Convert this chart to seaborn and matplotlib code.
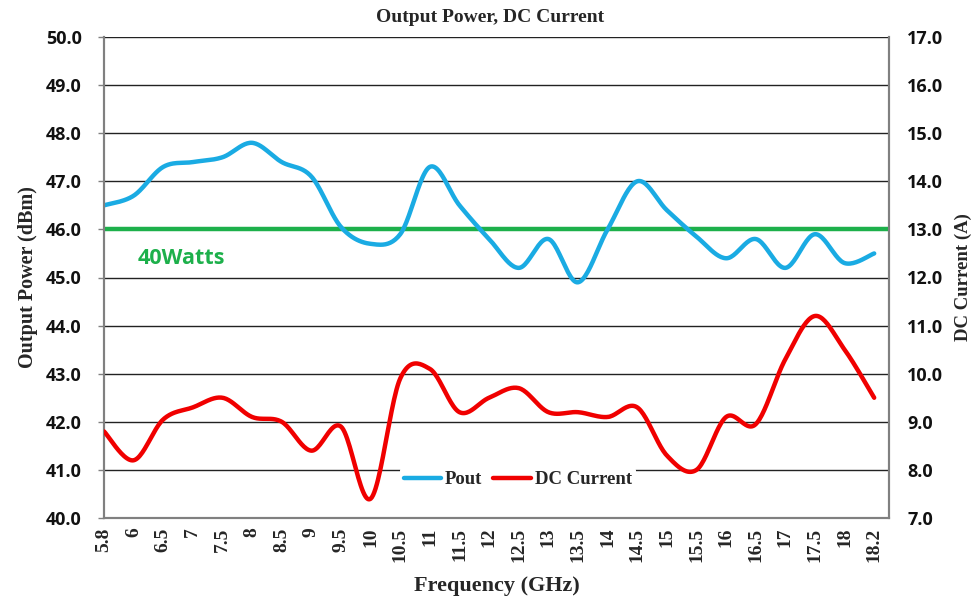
import numpy as np
import pandas as pd
import matplotlib
matplotlib.use("Agg")
import matplotlib.pyplot as plt
import seaborn as sns
from matplotlib.lines import Line2D

# ---- data ----
freq_labels = ["5.8", "6", "6.5", "7", "7.5", "8", "8.5", "9", "9.5", "10", "10.5",
               "11", "11.5", "12", "12.5", "13", "13.5", "14", "14.5", "15", "15.5",
               "16", "16.5", "17", "17.5", "18", "18.2"]
pout = [46.5, 46.7, 47.3, 47.4, 47.5, 47.8, 47.4, 47.1, 46.05, 45.7, 45.9,
        47.3, 46.5, 45.8, 45.2, 45.8, 44.9, 46.0, 47.0, 46.4, 45.85,
        45.4, 45.8, 45.2, 45.9, 45.3, 45.5]
dc_current = [8.8, 8.2, 9.05, 9.3, 9.5, 9.1, 9.0, 8.4, 8.9, 7.4, 9.9,
              10.1, 9.2, 9.5, 9.7, 9.2, 9.2, 9.1, 9.3, 8.3, 8.0,
              9.1, 8.95, 10.3, 11.2, 10.5, 9.5]
ref_level = 46.0
ref_label = "40Watts"

left_ticks = [40.0 + i for i in range(11)]
right_ticks = [7.0 + i for i in range(11)]

BLUE = "#1AABE3"
RED = "#F00000"
GREEN = "#1DB04B"


def smooth(y, n=24):
    """Excel-style smoothed line (Catmull-Rom Bezier) through the points."""
    y = np.asarray(y, float)
    x = np.arange(len(y), dtype=float)
    pts = np.column_stack([x, y])
    out = []
    for i in range(len(pts) - 1):
        p0 = pts[i - 1] if i > 0 else pts[i]
        p1 = pts[i]
        p2 = pts[i + 1]
        p3 = pts[i + 2] if i + 2 < len(pts) else pts[i + 1]
        c1 = p1 + (p2 - p0) / 6.0
        c2 = p2 - (p3 - p1) / 6.0
        t = np.linspace(0, 1, n, endpoint=(i == len(pts) - 2))[:, None]
        seg = ((1 - t) ** 3) * p1 + 3 * ((1 - t) ** 2) * t * c1 + 3 * (1 - t) * t ** 2 * c2 + t ** 3 * p2
        out.append(seg)
    out = np.vstack(out)
    return out[:, 0], out[:, 1]


sns.set_theme(style="white")
plt.rcParams["font.family"] = ["Liberation Serif", "DejaVu Serif"]

W, H = 979, 597
fig = plt.figure(figsize=(W / 100, H / 100), dpi=100)
ax = fig.add_axes([104 / W, 1 - 518 / H, (889 - 104) / W, (518 - 37) / H])
ax2 = ax.twinx()

# Pout
xs, ys = smooth(pout)
df_p = pd.DataFrame({"x": xs, "y": ys})
sns.lineplot(data=df_p, x="x", y="y", ax=ax, color=BLUE, linewidth=3.2,
             sort=False, estimator=None, zorder=4, solid_capstyle="round")

# reference line
ax.axhline(ref_level, color=GREEN, linewidth=3.2, zorder=3)
ax.text(1.15, ref_level - 0.6, ref_label, color=GREEN, fontsize=15.5, fontweight="bold",
        family=["Open Sans", "DejaVu Sans"], va="center", ha="left", zorder=5)

# DC current
xd, yd = smooth(dc_current)
df_d = pd.DataFrame({"x": xd, "y": yd})
sns.lineplot(data=df_d, x="x", y="y", ax=ax2, color=RED, linewidth=3.2,
             sort=False, estimator=None, zorder=4, solid_capstyle="round")

# axes limits and ticks
ax.set_xlim(0, 26.5)
ax.set_ylim(40, 50)
ax2.set_ylim(7, 17)
ax.set_yticks(left_ticks)
ax.set_yticklabels([f"{v:.1f}" for v in left_ticks])
ax2.set_yticks(right_ticks)
ax2.set_yticklabels([f"{v:.1f}" for v in right_ticks])
ax.set_xticks(range(len(freq_labels)))
ax.set_xticklabels(freq_labels, rotation=90, fontsize=14, fontweight="bold",
                   family=["Liberation Serif", "DejaVu Serif"], va="top")

for a in (ax, ax2):
    for lab in a.get_yticklabels():
        lab.set_fontfamily(["Open Sans", "DejaVu Sans"])
        lab.set_fontweight("bold")
        lab.set_fontsize(13)
        lab.set_color("#111111")

ax.tick_params(axis="y", which="both", length=4, width=1, color="#808080", pad=12, left=True)
ax2.tick_params(axis="y", which="both", length=0, pad=13, right=True)
ax.tick_params(axis="x", length=0, pad=7)

# grid lines
for v in left_ticks:
    ax.axhline(v, color="#222222", linewidth=1.0, zorder=1)

for a in (ax, ax2):
    a.spines["top"].set_visible(False)
    a.spines["left"].set_color("#808080")
    a.spines["right"].set_color("#808080")
    a.spines["bottom"].set_color("#808080")
    for s in ("left", "right", "bottom"):
        a.spines[s].set_linewidth(1.5)
    a.set_xlabel("")
    a.set_ylabel("")

ax.set_ylabel("Output Power (dBm)", fontsize=14.5, fontweight="bold", labelpad=6)
ax2.set_ylabel("DC Current (A)", fontsize=13.5, fontweight="bold", rotation=90, labelpad=8)
ax.set_xlabel("Frequency (GHz)", fontsize=16, fontweight="bold", labelpad=10)

fig.text(490 / W, 1 - 18 / H, "Output Power, DC Current", ha="center", va="center",
         fontsize=14, fontweight="bold")

handles = [Line2D([], [], color=BLUE, lw=3.2), Line2D([], [], color=RED, lw=3.2)]
leg = ax2.legend(handles, ["Pout", "DC Current"], loc="center",
                 bbox_to_anchor=(0.527, 0.08), ncol=2, frameon=True,
                 prop={"family": "Liberation Serif", "weight": "bold", "size": 13.5},
                 handlelength=2.0, handletextpad=0.2, columnspacing=0.6,
                 borderpad=0.2, borderaxespad=0)
leg.get_frame().set_facecolor("white")
leg.get_frame().set_edgecolor("none")
leg.get_frame().set_alpha(1.0)
leg.set_zorder(10)

fig.savefig("out.png", dpi=100, facecolor="white")
